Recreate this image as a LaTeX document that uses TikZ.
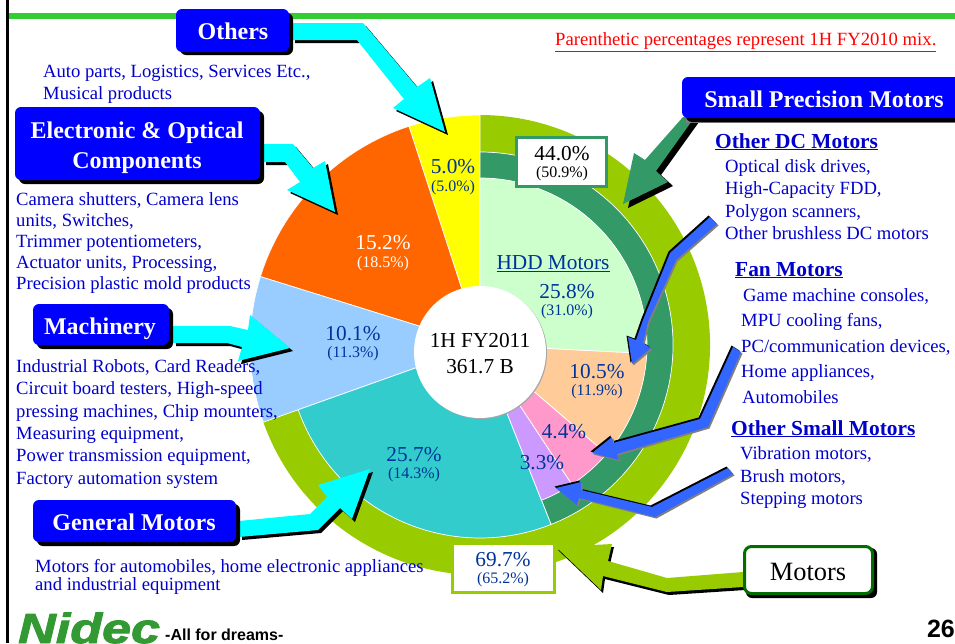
\documentclass[tikz,border=0pt]{standalone}
\usepackage{fontspec}
\setmainfont{Liberation Serif}
\newfontfamily\arialf{Liberation Sans}
\newfontfamily\logof{Liberation Sans}[BoldItalicFeatures={FakeBold=2}]
\definecolor{bodyblue}{HTML}{0000CC}
\definecolor{navy}{HTML}{003399}
\definecolor{pureblue}{HTML}{0000FF}
\definecolor{arrowblue}{HTML}{3366FF}
\definecolor{ringdark}{HTML}{339966}
\definecolor{ringolive}{HTML}{99CC00}
\definecolor{topgreen}{HTML}{33CC33}
\definecolor{logogreen}{HTML}{339933}
\definecolor{motorgreen}{HTML}{006E00}
\definecolor{arrowcyan}{HTML}{00FFFF}
\definecolor{slyellow}{HTML}{FFFF00}
\definecolor{slorange}{HTML}{FF6600}
\definecolor{slblue}{HTML}{99CCFF}
\definecolor{slteal}{HTML}{33CCCC}
\definecolor{slpurple}{HTML}{CC99FF}
\definecolor{slpink}{HTML}{FF99CC}
\definecolor{slpeach}{HTML}{FFCC99}
\definecolor{slpale}{HTML}{CCFFCC}
\definecolor{notered}{HTML}{FF0000}
\newcommand{\fsz}[1]{\fontsize{#1}{#1}\selectfont}
\newcommand{\blockarrow}[4]{\fill[#1,shift={#3}] #4; \fill[#2] #4;}
\newcommand{\bevelarrow}[1]{\fill[black,shift={(-1.5,-1.5)}] #1; \fill[gray,shift={(1.5,1.5)}] #1; \fill[arrowblue] #1;}
\newcommand{\pieslice}[4]{\fill[#4] (0,0) -- (#2:#1) arc[start angle=#2,end angle=#3,radius=#1] -- cycle; \draw[white,line width=0.7] (0,0) -- (#2:#1) arc[start angle=#2,end angle=#3,radius=#1] -- cycle;}
\newcommand{\ringslice}[5]{\fill[#5] (#3:#2) arc[start angle=#3,end angle=#4,radius=#2] -- (#4:#1) arc[start angle=#4,end angle=#3,radius=#1] -- cycle;}
\tikzset{
  body/.style={anchor=base west,inner sep=0pt,yshift=-6pt,text=bodyblue,font=\fsz{18.65}},
  head/.style={anchor=base west,inner sep=0pt,yshift=-7pt,text=bodyblue,font=\bfseries\fsz{21.4}},
  pct/.style={inner sep=0pt,yshift=-1pt,text=navy,font=\fsz{21.3}},
  subpct/.style={inner sep=0pt,yshift=-1pt,text=navy,font=\fsz{16}},
  title/.style={anchor=base,inner sep=0pt,text=white,font=\bfseries\fsz{24}},
  bluebox/.style={fill=pureblue,rounded corners=6pt},
  shadowbox/.style={fill=black,rounded corners=6pt},
}
\begin{document}
\begin{tikzpicture}[x=1pt,y=-1pt]
\useasboundingbox (0,0) rectangle (955,643);
\clip (0,0) rectangle (955,643);
\fill[white] (0,0) rectangle (955,643);
% frame
\fill[black] (6,0) rectangle (9,643);
\fill[topgreen] (9,13) rectangle (955,19);
% pie
\begin{scope}[shift={(480,345)},x=1pt,y=1pt]
  \ringslice{193}{230}{199.6}{450}{ringolive}
  \ringslice{167}{193}{291.6}{450}{ringdark}
  \draw[white,line width=0.7] (291.6:193) arc[start angle=291.6,end angle=450,radius=193];
  \draw[white,line width=0.7] (291.6:193) -- (291.6:167);
  \pieslice{230}{90}{108}{slyellow}
  \pieslice{230}{108}{162.7}{slorange}
  \pieslice{230}{162.7}{199.6}{slblue}
  \pieslice{193}{199.6}{291.6}{slteal}
  \pieslice{167}{291.6}{303.4}{slpurple}
  \pieslice{167}{303.4}{319.3}{slpink}
  \pieslice{167}{319.3}{357.1}{slpeach}
  \pieslice{167}{357.1}{450}{slpale}
\end{scope}
% hole
\fill[gray!70] (481,353) circle[radius=66];
\fill[white] (480,352) circle[radius=66];
% cyan arrows
\blockarrow{black}{arrowcyan}{(3,3)}{(292,23) -- (363,23) -- (417,87) -- (430,78) -- (445,132) -- (393,108) -- (404,99) -- (357,40) -- (292,40) -- cycle}
\blockarrow{black}{arrowcyan}{(3,3)}{(263,144) -- (293,144) -- (313,168) -- (325,161) -- (335,212) -- (287,190) -- (300,182) -- (285,162) -- (263,162) -- cycle}
\blockarrow{black}{arrowcyan}{(3,3)}{(173,326) -- (230,326) -- (248,330) -- (250,315) -- (290,348) -- (238,361) -- (242,347) -- (227,343) -- (173,343) -- cycle}
\blockarrow{black}{arrowcyan}{(3,3)}{(239,521) -- (310,514) -- (327,497) -- (318,485) -- (370,469) -- (352,519) -- (340,508) -- (318,530) -- (239,537) -- cycle}
% green arrows
\blockarrow{black}{ringdark}{(5,4)}{(683,117) -- (645,160) -- (634,153) -- (623,204) -- (668,182) -- (656,171) -- (694,118) -- cycle}
\blockarrow{black}{ringolive}{(2,3)}{(743,572) -- (667,578) -- (608,561) -- (612,544) -- (556,547) -- (601,590) -- (603,576) -- (667,592) -- (743,587) -- cycle}
% blue arrows
\bevelarrow{(710,217) -- (717,224) -- (676,260) -- (648,322) -- (643,343) -- (651,348) -- (632,364) -- (628,337) -- (636,340) -- (643,320) -- (670,253) -- cycle}
\bevelarrow{(733,347) -- (741,352) -- (708,427) -- (617,454) -- (619,460) -- (592,453) -- (612,437) -- (613,443) -- (700,419) -- cycle}
\bevelarrow{(728,468) -- (733,474) -- (655,517) -- (579,498) -- (577,505) -- (556,488) -- (581,482) -- (581,490) -- (652,507) -- cycle}
% value boxes
\node[draw=ringdark,line width=3pt,fill=white,minimum width=90pt,minimum height=49pt,inner sep=0pt] (boxsmall) at (561.5,162) {};
\node[draw=ringolive,line width=2.5pt,fill=white,minimum width=102pt,minimum height=49pt,inner sep=0pt] (boxmotor) at (503.5,568) {};
% title boxes
\fill[shadowbox] (180,13) rectangle (293,55);
\node[bluebox,minimum width=113pt,minimum height=43pt,inner sep=0pt] (others) at (232.5,30.5) {};
\fill[shadowbox] (19,111) rectangle (264,184);
\node[bluebox,minimum width=245pt,minimum height=73pt,inner sep=0pt] (elec) at (137.5,143.5) {};
\fill[shadowbox] (37,308) rectangle (173,349);
\node[bluebox,minimum width=136pt,minimum height=41pt,inner sep=0pt] (mach) at (101,324.5) {};
\fill[shadowbox] (37,504) rectangle (240,546);
\node[bluebox,minimum width=203pt,minimum height=42pt,inner sep=0pt] (gen) at (134.5,521) {};
\fill[gray] (686,120) rectangle (970,123);
\fill[shadowbox] (686,80) rectangle (970,122);
\node[bluebox,minimum width=290pt,minimum height=41pt,inner sep=0pt] (small) at (827,97.5) {};
\fill[shadowbox] (746,548) rectangle (877,598);
\node[fill=white,draw=motorgreen,line width=3pt,rounded corners=7pt,minimum width=128pt,minimum height=47pt,inner sep=0pt] (motors) at (808.5,570) {};
% titles
\node[title] (tothers) at (233,39) {Others};
\node[title] (telec1) at (137,138) {Electronic \& Optical};
\node[title] (telec2) at (137,168) {Components};
\node[title] (tmach) at (100,334) {Machinery};
\node[title] (tgen) at (134,530) {General Motors};
\node[title] (tsmall) at (824,107) {Small Precision Motors};
\node[title,text=black,font=\fsz{26.4}] (tmotors) at (808,580) {Motors};
% red note
\node[anchor=base west,inner sep=0pt,text=notered,font=\fsz{18.65}] (note) at (555,45.5) {\underline{Parenthetic percentages represent 1H FY2010 mix.}};
% pie labels
\node[pct] (p1) at (453,166) {5.0\%};
\node[subpct] (s1) at (453,187) {(5.0\%)};
\node[pct,text=white] (p2) at (383,242) {15.2\%};
\node[subpct,text=white] (s2) at (383,263) {(18.5\%)};
\node[pct] (p3) at (353,333) {10.1\%};
\node[subpct] (s3) at (353,353) {(11.3\%)};
\node[pct] (p4) at (414,454) {25.7\%};
\node[subpct] (s4) at (414,474) {(14.3\%)};
\node[pct] (hdd) at (553,263) {\underline{HDD Motors}};
\node[pct] (p5) at (567,291) {25.8\%};
\node[subpct] (s5) at (567,311) {(31.0\%)};
\node[pct] (p6) at (597,371) {10.5\%};
\node[subpct] (s6) at (597,391) {(11.9\%)};
\node[pct] (p7) at (564,431) {4.4\%};
\node[pct] (p8) at (542,462) {3.3\%};
\node[pct,text=black] (p9) at (562,153) {44.0\%};
\node[subpct,text=black] (s9) at (562,173) {(50.9\%)};
\node[pct] (p10) at (503,559) {69.7\%};
\node[subpct] (s10) at (503,579) {(65.2\%)};
\node[pct,text=black] (c1) at (480,340) {1H FY2011};
\node[pct,text=black] (c2) at (480,366) {361.7 B};
% body text
\node[body] (a1) at (43,71) {Auto parts, Logistics, Services Etc.,};
\node[body] (a2) at (43,93) {Musical products};
\node[body] (b1) at (16,199) {Camera shutters, Camera lens};
\node[body] (b2) at (16,220) {units, Switches,};
\node[body] (b3) at (16,241) {Trimmer potentiometers,};
\node[body] (b4) at (16,262) {Actuator units, Processing,};
\node[body] (b5) at (16,283) {Precision plastic mold products};
\node[body] (d1) at (16,366) {Industrial Robots, Card Readers,};
\node[body] (d2) at (16,388) {Circuit board testers, High-speed};
\node[body] (d3) at (16,411) {pressing machines, Chip mounters,};
\node[body] (d4) at (16,433) {Measuring equipment,};
\node[body] (d5) at (16,455) {Power transmission equipment,};
\node[body] (d6) at (16,478) {Factory automation system};
\node[body] (e1) at (35,566) {Motors for automobiles, home electronic appliances};
\node[body] (e2) at (35,584) {and industrial equipment};
\node[head] (h1) at (715,141) {\underline{Other DC Motors}};
\node[body] (f1) at (725,166) {Optical disk drives,};
\node[body] (f2) at (725,188) {High-Capacity FDD,};
\node[body] (f3) at (725,211) {Polygon scanners,};
\node[body] (f4) at (725,233) {Other brushless DC motors};
\node[head] (h2) at (735,269) {\underline{Fan Motors}};
\node[body] (g1) at (743,295) {Game machine consoles,};
\node[body] (g2) at (741,320) {MPU cooling fans,};
\node[body] (g3) at (741,346) {PC/communication devices,};
\node[body] (g4) at (741,371) {Home appliances,};
\node[body] (g5) at (742,397) {Automobiles};
\node[head] (h3) at (731,428) {\underline{Other Small Motors}};
\node[body] (i1) at (740,453) {Vibration motors,};
\node[body] (i2) at (740,476) {Brush motors,};
\node[body] (i3) at (740,498) {Stepping motors};
% logo and page number
\node[anchor=base west,inner sep=0pt,text=logogreen] (logo) at (18,643) {\scalebox{1.24}[1]{\logof\bfseries\itshape\fsz{42}Nidec}};
\node[anchor=base west,inner sep=0pt,text=black,font=\arialf\bfseries\fsz{16}] (slogan) at (165,640) {-All for dreams-};
\node[anchor=base east,inner sep=0pt,text=black,font=\arialf\bfseries\fsz{25}] (page) at (955,637) {26};
\end{tikzpicture}
\end{document}
